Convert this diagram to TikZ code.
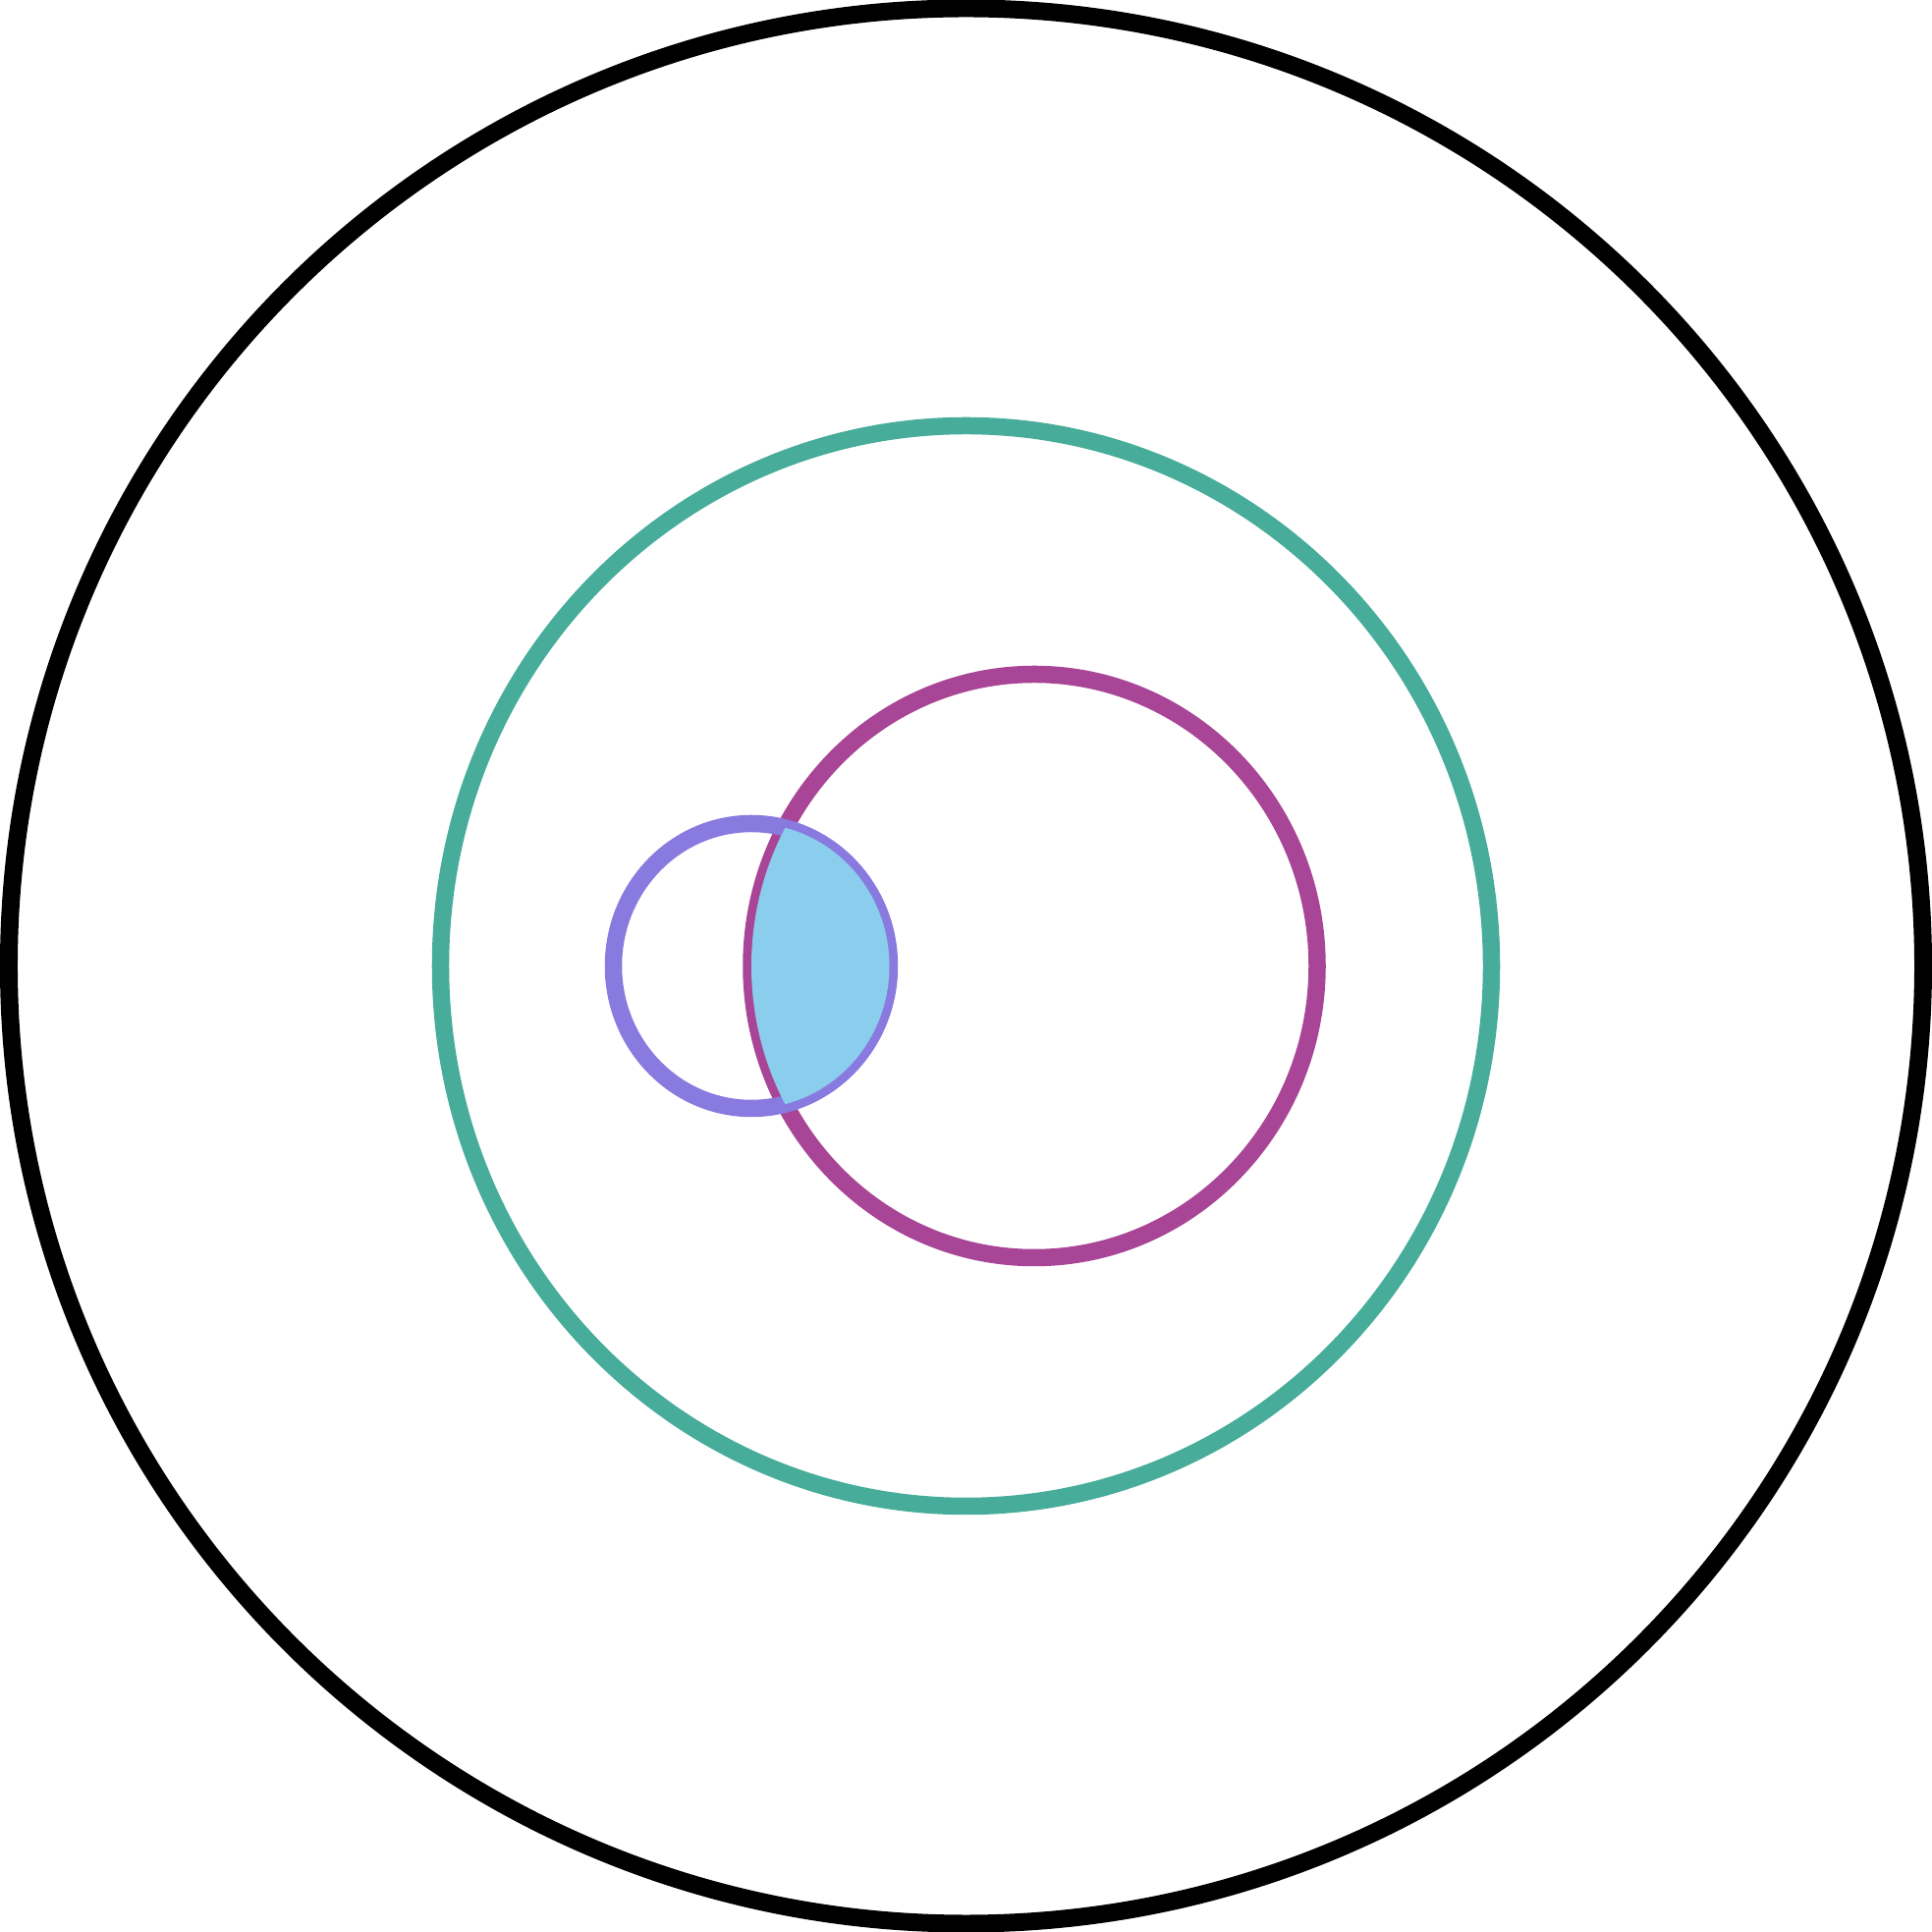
\documentclass[tikz,border=0pt]{standalone}
\usepackage{xcolor}
\definecolor{ringteal}{HTML}{47AC9A}
\definecolor{ringplum}{HTML}{A84596}
\definecolor{ringviolet}{HTML}{897ADF}
\definecolor{lensblue}{HTML}{8BCDEC}
\begin{document}
\begin{tikzpicture}[
    x=1cm,y=1cm,
    ring/.style={line width=0.175cm},
    outerring/.style={ring, draw=black, line width=0.18cm},
    tealring/.style={ring, draw=ringteal},
    plumring/.style={ring, draw=ringplum},
    violetring/.style={ring, draw=ringviolet},
    lens/.style={fill=lensblue}
]
    \useasboundingbox (-9.835,-9.835) rectangle (9.835,9.835);

    \draw[outerring] (0,0) ellipse [x radius=9.745, y radius=9.75];
    \draw[tealring] (0,0) ellipse [x radius=5.35, y radius=5.50];
    \draw[plumring] (0.695,0) ellipse [x radius=2.88, y radius=2.97];
    \draw[violetring] (-2.185,0) ellipse [x radius=1.405, y radius=1.45];

    % overlap of the two small rings
    \begin{scope}
        \clip (-2.185,0) ellipse [x radius=1.405, y radius=1.45];
        \fill[lens] (0.695,0) ellipse [x radius=2.88, y radius=2.97];
    \end{scope}
\end{tikzpicture}
\end{document}
